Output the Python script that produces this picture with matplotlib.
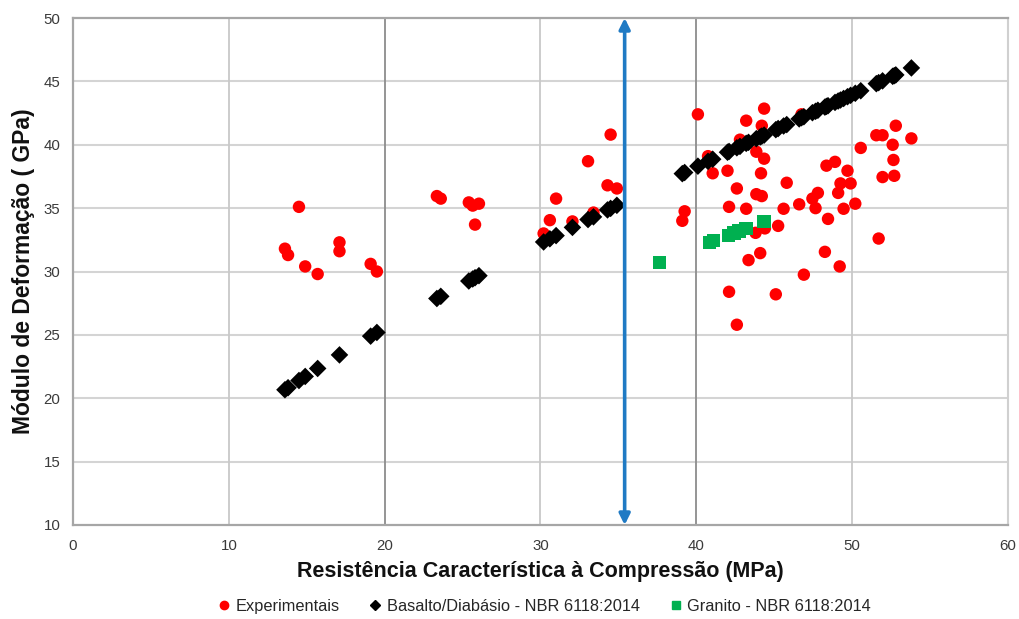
import matplotlib
matplotlib.use("Agg")
import matplotlib.pyplot as plt
from matplotlib.lines import Line2D

plt.rcParams['font.family'] = ['Liberation Sans', 'DejaVu Sans']

# Experimental results: fck (MPa) vs modulus (GPa)
exp_x = [13.6, 13.8, 14.5, 14.9, 15.7, 17.1, 17.1, 19.1, 19.5,
         23.35, 23.6, 25.4, 25.65, 26.05, 25.8, 30.2, 30.6, 31.0, 32.05,
         33.05, 33.4, 34.3, 34.5, 34.9,
         40.1, 44.35, 43.2, 44.2, 42.8, 40.75, 43.85, 44.35, 41.05, 42.0,
         44.15, 42.6, 43.85, 44.2, 45.8, 42.1, 43.2, 45.6, 46.6, 39.25,
         39.1, 47.45, 47.8, 47.65, 48.45, 48.35, 48.9, 49.7, 49.25, 49.9,
         49.1, 49.45, 50.2, 50.55, 51.55, 51.95, 52.8, 53.8, 52.6, 52.65,
         51.95, 52.7, 51.7, 45.25, 44.4, 43.8, 44.1, 43.35, 48.25, 49.2,
         46.9, 42.1, 45.1, 42.6, 46.75]
exp_y = [31.8, 31.3, 35.1, 30.4, 29.8, 32.3, 31.6, 30.6, 30.0,
         35.95, 35.75, 35.45, 35.2, 35.35, 33.7, 33.0, 34.05, 35.75, 33.95,
         38.7, 34.65, 36.8, 40.8, 36.55,
         42.4, 42.85, 41.9, 41.5, 40.4, 39.1, 39.45, 38.9, 37.75, 37.95,
         37.75, 36.55, 36.1, 35.95, 37.0, 35.1, 34.95, 34.95, 35.3, 34.75,
         34.0, 35.75, 36.2, 35.0, 34.15, 38.35, 38.65, 37.95, 36.95, 36.95,
         36.2, 34.95, 35.35, 39.75, 40.75, 40.75, 41.5, 40.5, 40.0, 38.8,
         37.45, 37.55, 32.6, 33.6, 33.4, 33.05, 31.45, 30.9, 31.55, 30.4,
         29.75, 28.4, 28.2, 25.8, 42.4]

# NBR 6118:2014 estimates - basalt / diabase aggregate
bas_x = [13.6, 13.8, 14.5, 14.9, 15.7, 17.1, 19.1, 19.5,
         23.35, 23.6, 25.4, 25.65, 25.8, 26.05, 30.2, 30.6, 31.0, 32.05,
         33.05, 33.4, 34.3, 34.5, 34.9,
         39.1, 39.25, 40.1, 40.75, 41.05, 42.0, 42.1, 42.6, 42.8, 43.2,
         43.35, 43.85, 44.1, 44.2, 44.35, 45.1, 45.25, 45.6, 45.8, 46.6,
         46.75, 46.9, 47.45, 47.65, 47.8, 48.25, 48.35, 48.45, 48.9, 49.1,
         49.25, 49.45, 49.7, 49.9, 50.2, 50.55, 51.55, 51.7, 51.95, 52.6,
         52.7, 52.8, 53.8]
bas_y = [20.67, 20.83, 21.40, 21.72, 22.35, 23.42, 24.90, 25.19,
         27.87, 28.04, 29.25, 29.41, 29.51, 29.67, 32.33, 32.58, 32.83, 33.48,
         34.10, 34.31, 34.86, 34.98, 35.22,
         37.72, 37.81, 38.31, 38.69, 38.86, 39.41, 39.47, 39.76, 39.87, 40.11,
         40.19, 40.48, 40.62, 40.68, 40.76, 41.19, 41.28, 41.48, 41.59, 42.04,
         42.13, 42.21, 42.53, 42.64, 42.72, 42.97, 43.03, 43.08, 43.34, 43.45,
         43.53, 43.65, 43.79, 43.90, 44.06, 44.26, 44.82, 44.90, 45.04, 45.40,
         45.45, 45.51, 46.06]

# NBR 6118:2014 estimates - granite aggregate
gra_x = [37.65, 40.85, 41.1, 42.05, 42.4, 42.75, 43.2, 44.35]
gra_y = [30.7, 32.3, 32.45, 32.85, 33.05, 33.2, 33.4, 33.95]

x_ticks = [0, 10, 20, 30, 40, 50, 60]
y_ticks = [10, 15, 20, 25, 30, 35, 40, 45, 50]
limit_fck = 35.4

labels = ['Experimentais', 'Basalto/Diabásio - NBR 6118:2014',
          'Granito - NBR 6118:2014']

W, H = 1020, 619
fig = plt.figure(figsize=(W / 100, H / 100), dpi=100)
ax = fig.add_axes([73 / W, 1 - 525 / H, (1008 - 73) / W, (525 - 18) / H])

ax.set_xlim(0, 60)
ax.set_ylim(10, 50)
ax.set_xticks(x_ticks)
ax.set_yticks(y_ticks)

# grid: light horizontal lines, alternating vertical lines
for yv in y_ticks[1:-1]:
    ax.axhline(yv, color='#d4d4d4', lw=1.5, zorder=0)
for xv in x_ticks[1:-1]:
    c = '#8c8c8c' if xv % 20 == 0 else '#c8c8c8'
    ax.axvline(xv, color=c, lw=1.3, zorder=0)

for side in ['top', 'bottom', 'left']:
    ax.spines[side].set_color('#a6a6a6')
    ax.spines[side].set_linewidth(1.6)
ax.spines['right'].set_color('#d0d0d0')
ax.spines['right'].set_linewidth(1.5)

ax.tick_params(length=0, labelsize=10.8, labelcolor='#3a3a3a')
ax.tick_params(axis='x', pad=10)
ax.tick_params(axis='y', pad=9)

ax.scatter(exp_x, exp_y, s=80, marker='o', color='#ff0000',
           edgecolors='none', zorder=3)
ax.scatter(bas_x, bas_y, s=80, marker='D', color='#000000',
           edgecolors='none', zorder=4)
ax.scatter(gra_x, gra_y, s=95, marker='s', color='#00b050',
           edgecolors='none', zorder=5)

ax.annotate('', xy=(limit_fck, 50), xytext=(limit_fck, 10),
            arrowprops=dict(arrowstyle='<|-|>', color='#1f7ac4', lw=2.6,
                            mutation_scale=16, shrinkA=0, shrinkB=0),
            annotation_clip=False, zorder=6)

ax.set_xlabel('Resistência Característica à Compressão (MPa)',
              fontsize=15.5, fontweight='bold', color='#111111', labelpad=6)
ax.set_ylabel('Módulo de Deformação ( GPa)',
              fontsize=16.5, fontweight='bold', color='#111111', labelpad=6)

handles = [
    Line2D([], [], ls='none', marker='o', color='#ff0000', markersize=6),
    Line2D([], [], ls='none', marker='D', color='#000000', markersize=5),
    Line2D([], [], ls='none', marker='s', color='#00b050', markersize=6),
]
fig.legend(handles, labels, loc='center', ncol=3, frameon=False,
           bbox_to_anchor=(545 / W, 1 - 606.5 / H), fontsize=11.8,
           handlelength=0.6, handletextpad=0.4, columnspacing=1.9,
           labelcolor='#262626')

fig.savefig('out.png', dpi=100)
